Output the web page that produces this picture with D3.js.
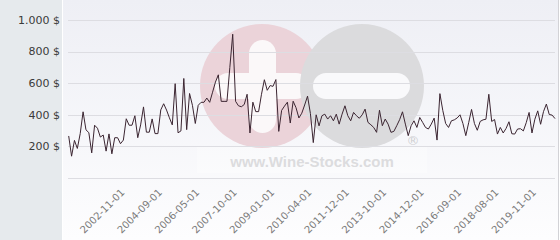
<!DOCTYPE html>
<html>
<head>
  <meta charset="utf-8">
  <script src="https://d3js.org/d3.v7.min.js"></script>
  <style>
    body { margin: 0; background: #fff; }
    .grid line { stroke: #dddde2; stroke-width: 1px; shape-rendering: crispEdges; }
    .yLabel { font-family: "DejaVu Sans", sans-serif; font-size: 11px; fill: #3a3a3a; }
    .xLabel { font-family: "DejaVu Sans", sans-serif; font-size: 10px; fill: #7a7a7a; }
    .line { fill: none; stroke: #3b2531; stroke-width: 1px; }
  </style>
</head>
<body>
  <svg width="560" height="240"></svg>
  <script>
    // auction prices, one per sale, in order
    var prices = [
      266, 138, 238, 187, 281, 419, 305, 287, 159, 334,
      315, 259, 272, 170, 279, 153, 255, 255, 217, 240,
      375, 334, 334, 394, 255, 336, 450, 290, 290, 374,
      281, 281, 431, 470, 430, 381, 336, 597, 286, 298,
      630, 306, 535, 460, 345, 460, 479, 479, 506, 479,
      543, 607, 653, 485, 485, 485, 700, 910, 485, 457,
      451, 465, 530, 285, 480, 420, 420, 530, 622, 555,
      585, 580, 623, 295, 428, 455, 480, 348, 486, 445,
      380, 410, 462, 518, 408, 224, 400, 330, 394, 404,
      373, 394, 362, 404, 341, 404, 457, 394, 362, 415,
      394, 378, 400, 436, 352, 337, 320, 289, 429, 331,
      373, 341, 289, 295, 331, 369, 419, 341, 268, 331,
      362, 320, 383, 352, 320, 310, 341, 379, 240, 534,
      428, 345, 320, 362, 368, 380, 400, 345, 268, 350,
      434, 345, 302, 358, 368, 372, 530, 358, 370, 278,
      320, 285, 314, 356, 280, 278, 310, 312, 298, 350,
      415, 285, 372, 425, 340, 420, 468, 402, 398, 376
    ];

    // dates shown under the axis: every 13th sale, starting at sale 20
    var tickLabels = ["2002-11-01", "2004-09-01", "2006-05-01", "2007-10-01",
      "2009-01-01", "2010-04-01", "2011-12-01", "2013-10-01",
      "2014-12-01", "2016-09-01", "2018-08-01", "2019-11-01"];
    var firstLabel = 20, labelStep = 13;

    var yTicks = [0, 200, 400, 600, 800, 1000];

    var svg = d3.select("svg");
    var W = 560, H = 240;

    var x = d3.scalePoint().domain(d3.range(prices.length)).range([68.7, 555]);
    var y = d3.scaleLinear().domain([0, 1000]).range([178, 20]);

    var money = d3.formatLocale({ decimal: ",", thousands: ".", grouping: [3], currency: ["", " $"] });
    var fmt = function(v) { return money.format(",")(v) + " $"; };

    // backgrounds
    var defs = svg.append("defs");
    var grad = defs.append("linearGradient").attr("id", "bg")
      .attr("x1", 0).attr("y1", 0).attr("x2", 0).attr("y2", 1);
    grad.append("stop").attr("offset", "0%").attr("stop-color", "#eeeff5");
    grad.append("stop").attr("offset", "100%").attr("stop-color", "#fdfdfe");

    svg.append("rect").attr("width", 62).attr("height", H).attr("fill", "#e6eaed");
    svg.append("rect").attr("x", 63).attr("width", 495).attr("height", H).attr("fill", "url(#bg)");
    svg.append("line").attr("x1", 558.5).attr("x2", 558.5).attr("y1", 0).attr("y2", H)
      .attr("stroke", "#d2d2d6");

    // watermark
    var wm = svg.append("g").attr("class", "watermark");
    wm.append("rect").attr("x", 197).attr("y", 147).attr("width", 230).attr("height", 26)
      .attr("fill", "#fff").attr("opacity", 0.3);
    wm.append("circle").attr("cx", 262).attr("cy", 86).attr("r", 62).attr("fill", "#ebd3d9");
    wm.append("rect").attr("x", 249).attr("y", 40).attr("width", 27).attr("height", 93).attr("rx", 13.5)
      .attr("fill", "#fbf8f9");
    wm.append("rect").attr("x", 215).attr("y", 73).attr("width", 94).attr("height", 26).attr("rx", 13)
      .attr("fill", "#fbf8f9");
    wm.append("circle").attr("cx", 362).attr("cy", 86).attr("r", 62).attr("fill", "#dbdbdd");
    wm.append("rect").attr("x", 313).attr("y", 73).attr("width", 97).attr("height", 26).attr("rx", 13)
      .attr("fill", "#f9f9fb");
    wm.append("text").attr("x", 312).attr("y", 167).attr("text-anchor", "middle")
      .style("font-family", "'Liberation Sans', Arial, sans-serif").style("font-weight", "bold")
      .style("font-size", "15px").attr("fill", "#dcdcde").text("www.Wine-Stocks.com");
    wm.append("text").attr("x", 413).attr("y", 145).attr("text-anchor", "middle")
      .style("font-family", "'DejaVu Sans', sans-serif").style("font-size", "13px")
      .attr("fill", "#cfcfd2").text("®");

    // grid + y labels
    var grid = svg.append("g").attr("class", "grid");
    grid.selectAll("line").data(yTicks).enter().append("line")
      .attr("x1", 68).attr("x2", 555)
      .attr("y1", function(d) { return Math.round(y(d)) + 0.5; })
      .attr("y2", function(d) { return Math.round(y(d)) + 0.5; });

    svg.append("g").selectAll("text").data(yTicks.filter(function(d) { return d > 0; }))
      .enter().append("text")
      .attr("class", "yLabel")
      .attr("x", 60)
      .attr("y", function(d) { return y(d); })
      .attr("dy", "0.35em")
      .attr("text-anchor", "end")
      .text(fmt);

    // x labels
    svg.append("g").selectAll("text").data(tickLabels).enter().append("text")
      .attr("class", "xLabel")
      .attr("text-anchor", "end")
      .attr("transform", function(d, i) {
        return "translate(" + (x(firstLabel + i * labelStep) - 1) + ",193) rotate(-45)";
      })
      .text(function(d) { return d; });

    // price line
    var line = d3.line()
      .x(function(d, i) { return x(i); })
      .y(function(d) { return y(d); });

    svg.append("path")
      .datum(prices)
      .attr("class", "line")
      .attr("d", line);
  </script>
</body>
</html>
